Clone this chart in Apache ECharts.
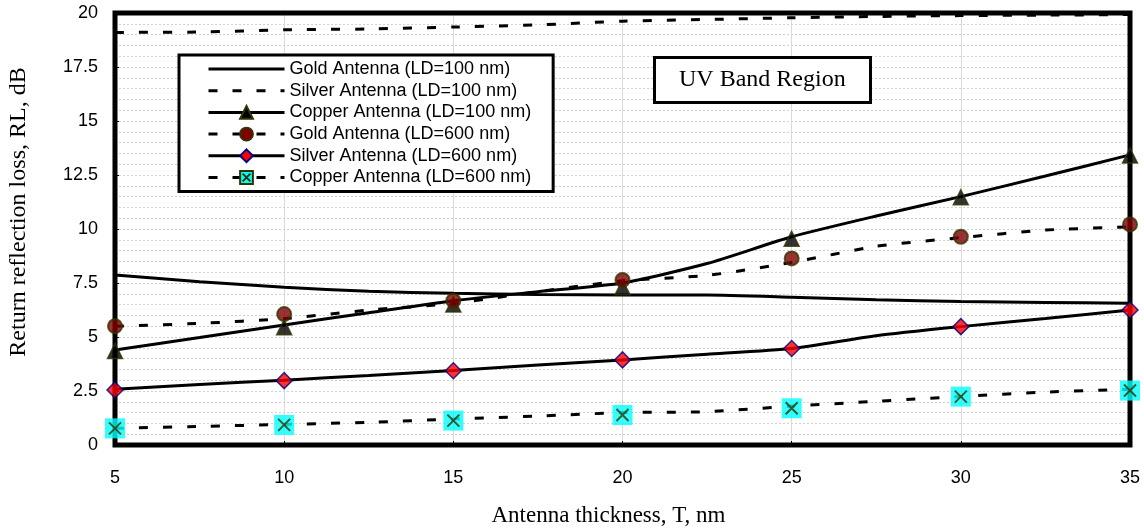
<!DOCTYPE html>
<html>
<head>
<meta charset="utf-8">
<script src="https://cdn.jsdelivr.net/npm/echarts@6/dist/echarts.min.js"></script>
<style>
html, body { margin: 0; padding: 0; background: #ffffff; }
#chart { width: 1144px; height: 528px; }
</style>
</head>
<body>
<div id="chart"></div>
<script>
// Antenna thickness (nm): measured points and the finer steps of the traced curves
const thicknessPoints = [5, 10, 15, 20, 25, 30, 35];
const thicknessTrace = [5, 7.5, 10, 12.5, 15, 17.5, 20, 22.5, 25, 27.5, 30, 32.5, 35];

// Traced curves, return reflection loss (dB)
const goldLD100Trace   = [7.87, 7.56, 7.30, 7.12, 7.02, 6.97, 6.94, 6.94, 6.84, 6.72, 6.64, 6.60, 6.56];
const silverLD100Trace = [19.10, 19.12, 19.22, 19.26, 19.35, 19.45, 19.62, 19.70, 19.78, 19.84, 19.88, 19.90, 19.93];
const copperLD100Trace = [4.40, 4.98, 5.56, 6.12, 6.68, 7.10, 7.50, 8.40, 9.64, 10.60, 11.50, 12.45, 13.43];
const goldLD600Trace   = [5.50, 5.63, 5.85, 6.25, 6.55, 7.10, 7.60, 7.85, 8.45, 9.20, 9.60, 9.95, 10.10];
const silverLD600Trace = [2.58, 2.80, 3.00, 3.22, 3.45, 3.70, 3.94, 4.20, 4.47, 5.06, 5.48, 5.86, 6.25];
const copperLD600Trace = [0.77, 0.86, 0.95, 1.05, 1.20, 1.34, 1.50, 1.54, 1.80, 2.02, 2.25, 2.45, 2.58];

// Marked points, return reflection loss (dB)
const copperLD100Points = [4.35, 5.45, 6.50, 7.30, 9.55, 11.47, 13.40];
const goldLD600Points   = [5.50, 6.06, 6.68, 7.64, 8.64, 9.64, 10.21];
const silverLD600Points = [2.55, 2.98, 3.44, 3.94, 4.47, 5.48, 6.25];
const copperLD600Points = [0.77, 0.93, 1.13, 1.39, 1.70, 2.24, 2.52];

// Series names as shown in the legend
const seriesNames = [
  'Gold Antenna (LD=100 nm)',
  'Silver Antenna (LD=100 nm)',
  'Copper Antenna (LD=100 nm)',
  'Gold Antenna (LD=600 nm)',
  'Silver Antenna (LD=600 nm)',
  'Copper Antenna (LD=600 nm)'
];

const xTitle = 'Antenna thickness, T, nm';
const yTitle = 'Return reflection loss, RL, dB';
const boxNote = 'UV Band Region';

// Marker styles
const crossPath = 'path://M0,0L10,10M10,0L0,10';
const triangleStyle = { symbol: 'triangle', size: 15, itemStyle: { color: '#000000', borderColor: '#333300', borderWidth: 1.5 } };
const circleStyle   = { symbol: 'circle', size: 14, itemStyle: { color: '#800000', borderColor: '#333300', borderWidth: 2 } };
const diamondStyle  = { symbol: 'diamond', size: 16, itemStyle: { color: '#ff0000', borderColor: '#000080', borderWidth: 1.5 } };
const squareStyle   = { symbol: 'rect', size: 20, itemStyle: { color: '#00ffff', borderWidth: 0 } };
const crossStyle    = { symbol: crossPath, size: 12, itemStyle: { color: 'rgba(0,0,0,0)', borderColor: '#333300', borderWidth: 2 } };
// Legend glyph for the cyan square with a cross
const squareCrossStyle = { symbol: 'path://M0,0H20V20H0Z M4,4L16,16 M16,4L4,16', size: 18, itemStyle: { color: '#00ffff', borderColor: '#333300', borderWidth: 1 } };

const DASH = [9, 15];

function traceSeries(name, values, dashed, marker) {
  return {
    name: name,
    type: 'line',
    data: thicknessTrace.map((t, i) => [t, values[i]]),
    showSymbol: false,
    symbol: marker ? marker.symbol : 'circle',
    symbolSize: marker ? marker.size : 1,
    itemStyle: marker ? marker.itemStyle : { color: 'rgba(0,0,0,0)', borderWidth: 0 },
    lineStyle: { color: '#000000', width: 3, type: dashed ? DASH : 'solid' },
    smooth: 0.2,
    silent: true,
    z: 3
  };
}

function pointSeries(id, values, marker, z) {
  return {
    name: id,
    type: 'scatter',
    data: thicknessPoints.map((t, i) => [t, values[i]]),
    symbol: marker.symbol,
    symbolSize: marker.size,
    itemStyle: marker.itemStyle,
    silent: true,
    z: z
  };
}

const chart = echarts.init(document.getElementById('chart'), null, { renderer: 'canvas' });

chart.setOption({
  animation: false,
  backgroundColor: '#ffffff',
  title: {
    text: boxNote,
    left: 654,
    top: 57,
    padding: [11, 25, 11, 25],
    backgroundColor: '#ffffff',
    borderColor: '#000000',
    borderWidth: 3,
    textStyle: { fontFamily: 'Liberation Serif', fontSize: 24, fontWeight: 'normal', color: '#000000' },
    z: 10
  },
  legend: {
    data: seriesNames,
    orient: 'vertical',
    left: 179,
    top: 55,
    padding: [5, 22, 5, 28],
    itemGap: 3.7,
    itemWidth: 76,
    itemHeight: 16,
    backgroundColor: '#ffffff',
    borderColor: '#000000',
    borderWidth: 3,
    selectedMode: false,
    lineStyle: { color: '#000000', width: 3 },
    textStyle: { fontFamily: 'Liberation Sans', fontSize: 18, color: '#000000' },
    z: 10
  },
  grid: {
    left: 115, right: 14, top: 13, bottom: 83,
    outerBoundsMode: 'none',
    containLabel: false,
    show: true,
    borderColor: '#000000',
    borderWidth: 5,
    z: 1
  },
  xAxis: {
    type: 'value',
    min: 5, max: 35, interval: 5,
    axisLine: { show: false },
    axisTick: { show: true, inside: true, length: 4, lineStyle: { color: '#000000', width: 1 } },
    axisLabel: { fontFamily: 'Liberation Sans', fontSize: 18, color: '#000000', margin: 24 },
    splitLine: { show: true, showMinLine: false, showMaxLine: false, lineStyle: { color: '#d9d9d9', width: 1 } },
    name: xTitle,
    nameLocation: 'middle',
    nameGap: 59,
    nameTextStyle: { fontFamily: 'Liberation Serif', fontSize: 23, color: '#000000', padding: [0, 28, 0, 0] }
  },
  yAxis: {
    type: 'value',
    min: 0, max: 20, interval: 2.5,
    axisLine: { show: false },
    axisTick: { show: true, inside: true, length: 4, lineStyle: { color: '#000000', width: 1 } },
    minorTick: { show: false, splitNumber: 5 },
    minorSplitLine: { show: true, lineStyle: { color: '#d0d0d0', width: 1, type: [2, 2] } },
    axisLabel: { fontFamily: 'Liberation Sans', fontSize: 18, color: '#000000', margin: 17 },
    splitLine: { show: true, showMinLine: false, showMaxLine: false, lineStyle: { color: '#d0d0d0', width: 1, type: [2, 2] } },
    name: yTitle,
    nameLocation: 'middle',
    nameGap: 84,
    nameTextStyle: { fontFamily: 'Liberation Serif', fontSize: 24, color: '#000000', padding: [0, 0, 0, 34] }
  },
  series: [
    traceSeries(seriesNames[0], goldLD100Trace, false, null),
    traceSeries(seriesNames[1], silverLD100Trace, true, null),
    traceSeries(seriesNames[2], copperLD100Trace, false, triangleStyle),
    traceSeries(seriesNames[3], goldLD600Trace, true, circleStyle),
    traceSeries(seriesNames[4], silverLD600Trace, false, diamondStyle),
    traceSeries(seriesNames[5], copperLD600Trace, true, squareCrossStyle),
    pointSeries('copperLD100 points', copperLD100Points, triangleStyle, 5),
    pointSeries('goldLD600 points', goldLD600Points, circleStyle, 5),
    pointSeries('silverLD600 points', silverLD600Points, diamondStyle, 5),
    pointSeries('copperLD600 squares', copperLD600Points, squareStyle, 5),
    pointSeries('copperLD600 crosses', copperLD600Points, crossStyle, 6)
  ]
});
</script>
</body>
</html>
